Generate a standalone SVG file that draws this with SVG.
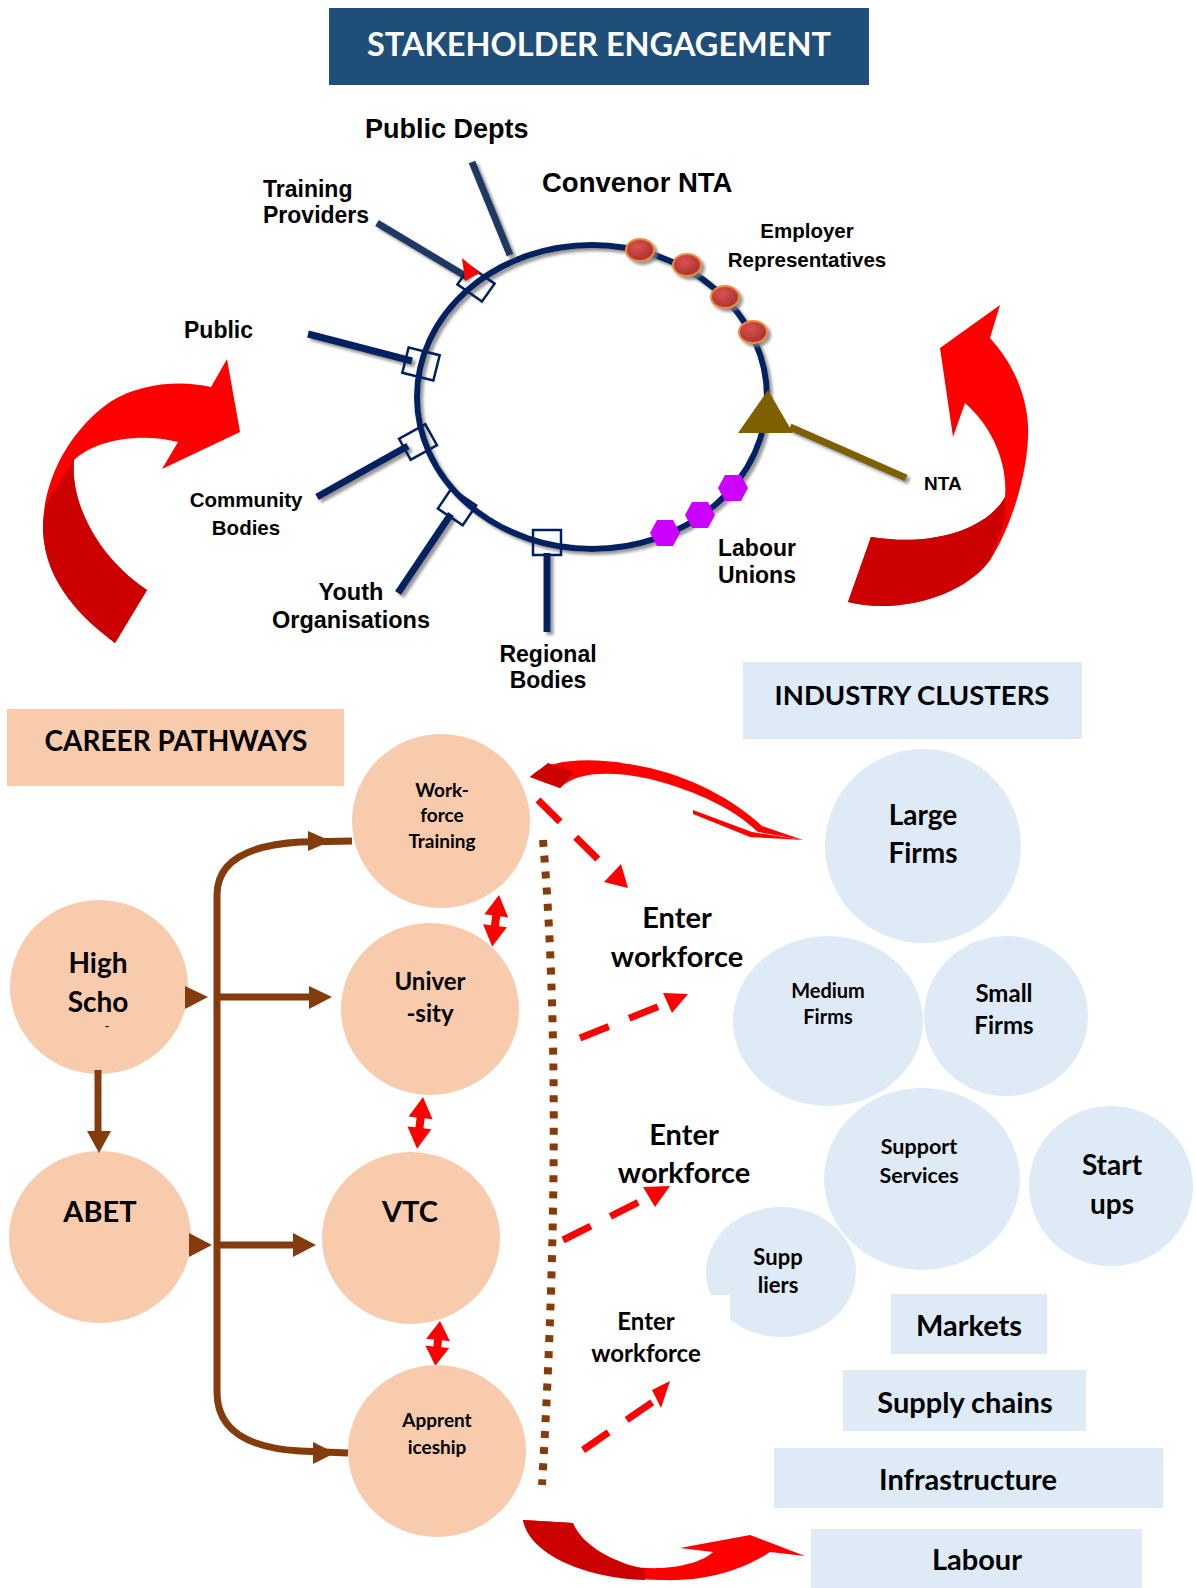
<svg xmlns="http://www.w3.org/2000/svg" width="1196" height="1588" viewBox="0 0 1196 1588">
<defs>
<style>
.ar{font-family:"Liberation Sans",Arial,sans-serif;font-weight:bold;fill:#000}
.ca{font-family:Lato,"Open Sans",sans-serif;font-weight:bold;fill:#000;text-anchor:middle}
.peach{fill:#F8CBAD}
.blue{fill:#DEEBF7}
.spoke{stroke:#002060;stroke-width:7;fill:none}
.box{fill:none;stroke:#002060;stroke-width:2.5}
.brown{stroke:#843C0C;stroke-width:7;fill:none}
.bh{fill:#843C0C}
.dash{stroke:#FF0000;stroke-width:7;stroke-dasharray:31 22;fill:none}
.red{fill:#FF0000}
.dred{fill:#CC0000}
</style>
<filter id="sh" x="-20%" y="-20%" width="140%" height="140%">
<feDropShadow dx="3" dy="3" stdDeviation="1.5" flood-color="#7F7F7F" flood-opacity="0.8"/>
</filter>
<radialGradient id="og" cx="0.4" cy="0.35" r="0.7">
<stop offset="0" stop-color="#D9534F"/>
<stop offset="1" stop-color="#A5302C"/>
</radialGradient>
<path id="dbl" d="M0 0 L12 21 L4 21 L4 31 L12 31 L0 52 L-12 31 L-4 31 L-4 21 L-12 21 Z"/>
<path id="dbl2" d="M0 0 L12 19 L4 19 L4 26 L12 26 L0 45 L-12 26 L-4 26 L-4 19 L-12 19 Z"/>
</defs>
<rect width="1196" height="1588" fill="#FFFFFF"/>

<g id="title">
<rect x="329" y="8" width="540" height="77" fill="#1F4E79"/>
<text x="599" y="56" class="ca" style="fill:#FFFFFF;font-size:32.5px">STAKEHOLDER ENGAGEMENT</text>
</g>

<g id="ring" filter="url(#sh)">
<ellipse cx="592" cy="397" rx="175" ry="152" fill="none" stroke="#002060" stroke-width="6"/>
</g>

<g id="spokes" filter="url(#sh)">
<line x1="472" y1="162" x2="510" y2="255" stroke="#1F3864" stroke-width="7"/>
<line x1="377" y1="223" x2="467" y2="277" stroke="#1F3864" stroke-width="7"/>
<line x1="308" y1="334" x2="412" y2="361" class="spoke"/>
<line x1="317" y1="497" x2="408" y2="446" class="spoke"/>
<line x1="398" y1="593" x2="451" y2="514" class="spoke"/>
<line x1="547" y1="553" x2="547" y2="632" class="spoke"/>
<line x1="790" y1="427" x2="906" y2="478" stroke="#7F6000" stroke-width="7"/>
</g>

<g id="spoke-boxes">
<rect x="-15" y="-11" width="30" height="22" class="box" transform="translate(476 284) rotate(35)"/>
<polygon points="462,258 480,273 465,281" fill="#FF0000"/>
<rect x="-16" y="-13" width="32" height="26" class="box" transform="translate(421 364) rotate(14)"/>
<rect x="-15" y="-12" width="30" height="24" class="box" transform="translate(418 442) rotate(-29)"/>
<rect x="-15" y="-12" width="30" height="24" class="box" transform="translate(457 507) rotate(34)"/>
<rect x="533" y="530" width="28" height="25" class="box"/>
</g>

<g id="employer-reps" filter="url(#sh)">
<ellipse cx="640" cy="250" rx="14" ry="11" fill="url(#og)" stroke="#F08A3C" stroke-width="2"/>
<ellipse cx="687" cy="265" rx="14" ry="11" fill="url(#og)" stroke="#F08A3C" stroke-width="2"/>
<ellipse cx="725" cy="297" rx="14" ry="11" fill="url(#og)" stroke="#F08A3C" stroke-width="2"/>
<ellipse cx="753" cy="332" rx="14" ry="11" fill="url(#og)" stroke="#F08A3C" stroke-width="2"/>
</g>

<g id="nta-marker">
<polygon points="738,433 768,390 793,433" fill="#7F6000"/>
</g>

<g id="labour-hexes" fill="#CC00FF">
<polygon points="650,533 657,520 673,520 680,533 673,546 657,546"/>
<polygon points="685,515 692,502 708,502 715,515 708,528 692,528"/>
<polygon points="718,488 725,475 741,475 748,488 741,501 725,501"/>
</g>

<g id="top-labels">
<text x="365" y="138" class="ar" style="font-size:27px">Public Depts</text>
<text x="542" y="192" class="ar" style="font-size:27.5px">Convenor NTA</text>
<text x="263" y="197" class="ar" style="font-size:23px">Training</text>
<text x="263" y="223" class="ar" style="font-size:23px">Providers</text>
<text x="807" y="238" class="ar" style="font-size:20.5px;text-anchor:middle">Employer</text>
<text x="807" y="267" class="ar" style="font-size:20.5px;text-anchor:middle">Representatives</text>
<text x="184" y="338" class="ar" style="font-size:23px">Public</text>
<text x="246" y="507" class="ar" style="font-size:20.5px;text-anchor:middle">Community</text>
<text x="246" y="535" class="ar" style="font-size:20.5px;text-anchor:middle">Bodies</text>
<text x="351" y="600" class="ar" style="font-size:23.5px;text-anchor:middle">Youth</text>
<text x="351" y="628" class="ar" style="font-size:23.5px;text-anchor:middle">Organisations</text>
<text x="548" y="662" class="ar" style="font-size:23px;text-anchor:middle">Regional</text>
<text x="548" y="688" class="ar" style="font-size:23px;text-anchor:middle">Bodies</text>
<text x="718" y="556" class="ar" style="font-size:23px">Labour</text>
<text x="718" y="583" class="ar" style="font-size:23px">Unions</text>
<text x="924" y="490" class="ar" style="font-size:19px">NTA</text>
</g>

<g id="curved-arrow-left">
<path class="red" d="M115 643 C85 620 45 585 43 530 C42 480 70 430 110 402 C140 383 180 380 211 387 L227 359 L240 432 L162 469 L178 442 C140 432 95 440 74 460 C70 500 95 555 147 590 Z"/>
<path class="dred" d="M115 643 C85 620 45 585 43 530 C43 510 48 497 57 487 L74 460 C70 500 95 555 147 590 Z"/>
</g>

<g id="curved-arrow-right">
<path class="red" d="M848 602 C900 615 965 595 990 560 C1010 530 1030 470 1028 425 C1026 390 1010 360 990 338 L1000 305 L940 348 L953 437 L965 403 C990 425 1008 460 1005 497 C990 525 940 548 871 537 Z"/>
<path class="dred" d="M848 602 C900 615 965 595 990 560 L1005 520 L1005 497 C990 525 940 548 871 537 Z"/>
</g>

<g id="career-pathways">
<rect x="7" y="709" width="337" height="77" class="peach"/>
<text x="176" y="751" class="ca" style="font-size:28px">CAREER PATHWAYS</text>
</g>

<g id="industry-clusters">
<rect x="743" y="662" width="339" height="77" class="blue"/>
<text x="912" y="705" class="ca" style="font-size:27.5px">INDUSTRY CLUSTERS</text>
</g>

<g id="double-arrows" class="red">
<use href="#dbl" transform="translate(499 895) rotate(7.5)"/>
<use href="#dbl" transform="translate(423 1097) rotate(6.6)"/>
<use href="#dbl2" transform="translate(440 1321) rotate(6)"/>
</g>

<g id="node-workforce-training">
<ellipse cx="441" cy="821" rx="89" ry="87" class="peach"/>
<text x="442" y="797" class="ca" style="font-size:19px">Work-</text>
<text x="442" y="822" class="ca" style="font-size:19px">force</text>
<text x="442" y="848" class="ca" style="font-size:19px">Training</text>
</g>
<g id="node-university">
<ellipse cx="430" cy="1009" rx="89" ry="86" class="peach"/>
<text x="430" y="990" class="ca" style="font-size:24px">Univer</text>
<text x="430" y="1022" class="ca" style="font-size:24px">-sity</text>
</g>
<g id="node-high-school">
<ellipse cx="99" cy="987" rx="89" ry="87" class="peach"/>
<text x="98" y="973" class="ca" style="font-size:28px">High</text>
<text x="98" y="1012" class="ca" style="font-size:28px">Scho</text>
<text x="107" y="1030" class="ca" style="font-size:12px">-</text>
</g>
<g id="node-abet">
<ellipse cx="100" cy="1237" rx="91" ry="86" class="peach"/>
<text x="100" y="1222" class="ca" style="font-size:29px">ABET</text>
</g>
<g id="node-vtc">
<ellipse cx="411" cy="1238" rx="89" ry="86" class="peach"/>
<text x="410" y="1222" class="ca" style="font-size:29px">VTC</text>
</g>
<g id="node-apprenticeship">
<ellipse cx="437" cy="1451" rx="89" ry="86" class="peach"/>
<text x="437" y="1427" class="ca" style="font-size:19px">Apprent</text>
<text x="437" y="1454" class="ca" style="font-size:19px">iceship</text>
</g>

<g id="connectors">
<path class="brown" d="M352 841 L300 842 C250 845 217 860 217 895 L217 1392 C217 1432 250 1448 300 1451 L348 1453"/>
<polygon class="bh" points="308,831 331,841 308,851"/>
<polygon class="bh" points="313,1442 335,1453 313,1464"/>
<line class="brown" x1="217" y1="997" x2="312" y2="997"/>
<polygon class="bh" points="309,986 332,997 309,1009"/>
<line class="brown" x1="217" y1="1245" x2="296" y2="1245"/>
<polygon class="bh" points="293,1233 316,1245 293,1257"/>
<polygon class="bh" points="185,986 208,997 185,1009"/>
<polygon class="bh" points="189,1233 212,1245 189,1257"/>
<line class="brown" x1="98" y1="1070" x2="98" y2="1134"/>
<polygon class="bh" points="87,1131 99,1153 111,1131"/>
<path d="M543 840 Q565 1100 542 1485" fill="none" stroke="#843C0C" stroke-width="8" stroke-dasharray="7 9"/>
<line class="dash" x1="538" y1="800" x2="612" y2="873"/>
<polygon class="red" points="604,882 621,864 628,888"/>
<line class="dash" x1="580" y1="1038" x2="667" y2="1003"/>
<polygon class="red" points="663,993 688,994 672,1013"/>
<line class="dash" x1="563" y1="1240" x2="649" y2="1197"/>
<polygon class="red" points="643,1187 670,1186 655,1207"/>
<line class="dash" x1="583" y1="1450" x2="657" y2="1399"/>
<polygon class="red" points="652,1390 670,1381 661,1408"/>
<path class="red" d="M530 777 C550 756 600 757 650 768 C700 780 740 805 762 826 L803 840 L758 832 C735 810 700 792 650 779 C610 770 575 772 560 788 Z"/>
<polygon class="dred" points="530,777 548,763 574,772 560,788"/>
<polygon class="red" points="693,810 752,832 803,840 750,837 693,814"/>
<path class="red" d="M523 1520 C530 1555 585 1578 660 1580 C715 1582 750 1565 770 1552 L805 1556 L750 1535 L680 1548 L713 1552 C700 1565 660 1572 630 1566 C600 1558 580 1545 573 1523 Z"/>
<path class="dred" d="M523 1520 C530 1555 585 1578 645 1580 L645 1569 C612 1562 582 1545 573 1523 Z"/>
</g>

<g id="enter-labels">
<text x="677" y="928" class="ca" style="font-size:29px">Enter</text>
<text x="677" y="967" class="ca" style="font-size:29px">workforce</text>
<text x="684" y="1145" class="ca" style="font-size:29px">Enter</text>
<text x="684" y="1183" class="ca" style="font-size:29px">workforce</text>
<text x="646" y="1330" class="ca" style="font-size:24px">Enter</text>
<text x="646" y="1362" class="ca" style="font-size:24px">workforce</text>
</g>

<g id="node-large-firms">
<ellipse cx="923" cy="846" rx="98" ry="97" class="blue"/>
<text x="923" y="825" class="ca" style="font-size:28px">Large</text>
<text x="923" y="863" class="ca" style="font-size:28px">Firms</text>
</g>
<g id="node-medium-firms">
<ellipse cx="828" cy="1021" rx="95" ry="85" class="blue"/>
<text x="828" y="998" class="ca" style="font-size:20px">Medium</text>
<text x="828" y="1024" class="ca" style="font-size:20px">Firms</text>
</g>
<g id="node-small-firms">
<ellipse cx="1006" cy="1016" rx="82" ry="80" class="blue"/>
<text x="1004" y="1002" class="ca" style="font-size:24px">Small</text>
<text x="1004" y="1034" class="ca" style="font-size:24px">Firms</text>
</g>
<g id="node-support-services">
<ellipse cx="922" cy="1179" rx="98" ry="91" class="blue"/>
<text x="919" y="1154" class="ca" style="font-size:21.5px">Support</text>
<text x="919" y="1183" class="ca" style="font-size:21.5px">Services</text>
</g>
<g id="node-start-ups">
<ellipse cx="1111" cy="1186" rx="82" ry="80" class="blue"/>
<text x="1112" y="1175" class="ca" style="font-size:28px">Start</text>
<text x="1112" y="1214" class="ca" style="font-size:28px">ups</text>
</g>
<g id="node-suppliers">
<ellipse cx="781" cy="1272" rx="75" ry="65" class="blue"/>
<rect x="700" y="1295" width="30" height="26" fill="#FFFFFF"/>
<text x="778" y="1265" class="ca" style="font-size:22px">Supp</text>
<text x="778" y="1293" class="ca" style="font-size:22px">liers</text>
</g>

<g id="node-markets">
<rect x="891" y="1294" width="156" height="60" class="blue"/>
<text x="969" y="1336" class="ca" style="font-size:29px">Markets</text>
</g>
<g id="node-supply-chains">
<rect x="843" y="1370" width="243" height="61" class="blue"/>
<text x="965" y="1413" class="ca" style="font-size:29px">Supply chains</text>
</g>
<g id="node-infrastructure">
<rect x="774" y="1448" width="389" height="60" class="blue"/>
<text x="968" y="1490" class="ca" style="font-size:29px">Infrastructure</text>
</g>
<g id="node-labour">
<rect x="811" y="1529" width="331" height="59" class="blue"/>
<text x="977" y="1570" class="ca" style="font-size:29px">Labour</text>
</g>
</svg>
